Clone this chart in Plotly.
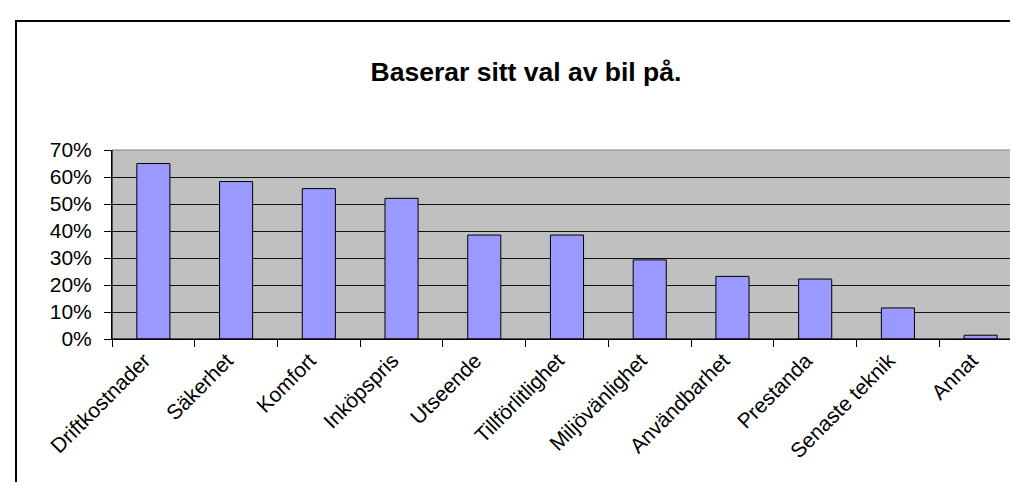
import plotly.graph_objects as go

categories = ["Driftkostnader", "Säkerhet", "Komfort", "Inköpspris", "Utseende",
              "Tillförlitlighet", "Miljövänlighet", "Användbarhet", "Prestanda",
              "Senaste teknik", "Annat"]
values = [0.65, 0.583, 0.557, 0.521, 0.385, 0.385, 0.293, 0.232, 0.222, 0.115, 0.014]
y_ticks = [0, 0.1, 0.2, 0.3, 0.4, 0.5, 0.6, 0.7]
y_labels = ["0%", "10%", "20%", "30%", "40%", "50%", "60%", "70%"]
title = "Baserar sitt val av bil på."

W, H = 1018, 482
L, R, T, B = 104, 1014, 142, 331
FONT = "Liberation Sans, Arial, sans-serif"

fig = go.Figure(go.Bar(
    x=categories, y=values, width=0.4,
    marker=dict(color="#9999FF", line=dict(color="black", width=1)),
    hoverinfo="x+y",
))

fig.update_layout(
    width=W, height=H,
    margin=dict(l=L, r=W - R, t=T, b=H - B, pad=0),
    paper_bgcolor="white", plot_bgcolor="#C0C0C0",
    font=dict(family=FONT, color="black", size=21),
    showlegend=False,
    title=dict(text="<b>" + title + "</b>", x=518 / W, xanchor="center",
               y=1 - 64 / H, yanchor="middle",
               font=dict(size=26.5, family=FONT, color="black")),
    xaxis=dict(tickangle=-45, tickson="boundaries", ticks="outside", ticklen=7,
               tickcolor="black", showline=True, linecolor="black", linewidth=1,
               showgrid=False, tickfont=dict(size=21), ticklabelshift=-9,
               fixedrange=True),
    yaxis=dict(range=[0, 0.7], tickvals=y_ticks, ticktext=y_labels, ticks="outside",
               ticklen=7, tickcolor="black", showline=True, linecolor="black",
               linewidth=1, showgrid=True, gridcolor="#111111", gridwidth=1,
               zeroline=False, tickfont=dict(size=21), ticklabelstandoff=8,
               fixedrange=True),
    shapes=[
        dict(type="rect", xref="paper", yref="paper", x0=0, x1=1, y0=0, y1=1,
             line=dict(color="#808080", width=1), fillcolor="rgba(0,0,0,0)", layer="below"),
        dict(type="line", xref="paper", yref="paper", x0=0, x1=1, y0=0, y1=0,
             line=dict(color="black", width=1)),
        dict(type="line", xref="paper", yref="paper", x0=0, x1=0, y0=0, y1=1,
             line=dict(color="black", width=1)),
    ],
)

# outer chart frame (paper space, converted to plot-area fractions)
fx0 = (8 - L) / (R - L)
fy1 = (B - 13) / (B - T)
fig.add_shape(type="path", xref="paper", yref="paper",
              path=f"M {fx0},-2 L {fx0},{fy1} L 1.1,{fy1}",
              line=dict(color="black", width=2))

fig.write_html("out.html")
